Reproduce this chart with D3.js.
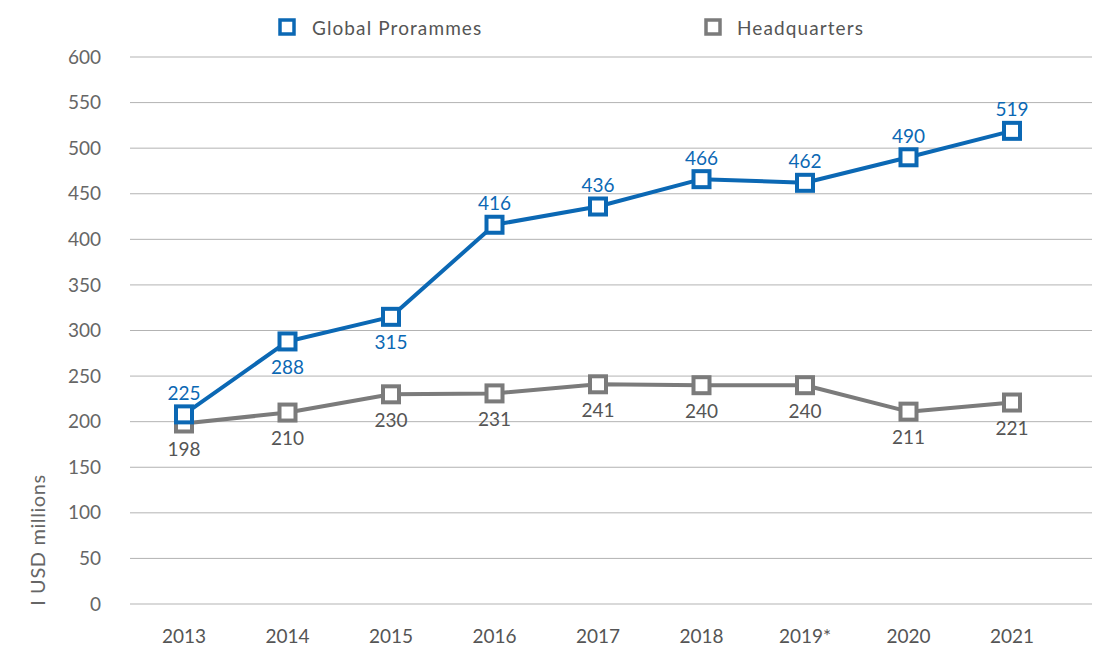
<!DOCTYPE html>
<html>
<head>
<meta charset="utf-8">
<script src="https://cdn.jsdelivr.net/npm/d3@7"></script>
<style>
  body { margin: 0; background: #fff; }
  text { font-family: Lato, "Open Sans", sans-serif; }
</style>
</head>
<body>
<div id="chart"></div>
<script>
// chart data
var years = ["2013", "2014", "2015", "2016", "2017", "2018", "2019*", "2020", "2021"];
var globalVals = [208, 288, 315, 416, 436, 466, 462, 490, 519];
var globalLabels = ["225", "288", "315", "416", "436", "466", "462", "490", "519"];
var hqVals = [198, 210, 230, 231, 241, 240, 240, 211, 221];
var hqLabels = ["198", "210", "230", "231", "241", "240", "240", "211", "221"];
var yTicks = [0, 50, 100, 150, 200, 250, 300, 350, 400, 450, 500, 550, 600];

var w = 1097, h = 646;
var blue = "#0b68b4", grey = "#7b7b7b";

var svg = d3.select("#chart").append("svg")
    .attr("width", w)
    .attr("height", h);

var x = d3.scalePoint().domain(years).range([184, 1012]);
var y = d3.scaleLinear().domain([0, 600]).range([604, 57]);

// grid lines
svg.selectAll(".grid")
    .data(yTicks)
    .enter().append("line")
    .attr("x1", 130).attr("x2", 1092)
    .attr("y1", function(d) { return y(d); })
    .attr("y2", function(d) { return y(d); })
    .style("stroke", "#b3b3b3")
    .style("stroke-width", 1);

// y tick labels
svg.selectAll(".ylab")
    .data(yTicks)
    .enter().append("text")
    .attr("x", 101)
    .attr("y", function(d) { return y(d); })
    .attr("dy", "0.35em")
    .attr("text-anchor", "end")
    .style("font-size", "19px")
    .style("fill", "#666")
    .text(function(d) { return d; });

// x tick labels
svg.selectAll(".xlab")
    .data(years)
    .enter().append("text")
    .attr("x", function(d) { return x(d); })
    .attr("y", 643)
    .attr("text-anchor", "middle")
    .style("font-size", "19px")
    .style("fill", "#555")
    .text(function(d) { return d; });

// y title
svg.append("text")
    .attr("transform", "translate(45,540) rotate(-90)")
    .attr("text-anchor", "middle")
    .style("font-size", "20px")
    .style("letter-spacing", "0.6px")
    .style("fill", "#666")
    .text("I USD millions");

function drawSeries(vals, labels, color, pos) {
    var line = d3.line()
        .x(function(d, i) { return x(years[i]); })
        .y(function(d) { return y(d); });

    svg.append("path")
        .datum(vals)
        .attr("d", line)
        .style("fill", "none")
        .style("stroke", color)
        .style("stroke-width", 4)
        .style("stroke-linejoin", "round");

    svg.selectAll(null)
        .data(vals)
        .enter().append("rect")
        .attr("x", function(d, i) { return x(years[i]) - 8; })
        .attr("y", function(d) { return y(d) - 8; })
        .attr("width", 16).attr("height", 16)
        .style("fill", "#fff")
        .style("stroke", color)
        .style("stroke-width", 4);

    svg.selectAll(null)
        .data(vals)
        .enter().append("text")
        .attr("x", function(d, i) { return x(years[i]); })
        .attr("y", function(d, i) { return y(d) + (pos[i] === "up" ? -21 : 26); })
        .attr("dy", "0.35em")
        .attr("text-anchor", "middle")
        .style("font-size", "19px")
        .style("fill", color === blue ? blue : "#555")
        .text(function(d, i) { return labels[i]; });
}

drawSeries(hqVals, hqLabels, grey, ["dn", "dn", "dn", "dn", "dn", "dn", "dn", "dn", "dn"]);
drawSeries(globalVals, globalLabels, blue, ["up", "dn", "dn", "up", "up", "up", "up", "up", "up"]);

// legend
var legend = [["Global Proramme" + "s", blue, 287, 312], ["Headquarters", grey, 713, 737]];
legend.forEach(function(l) {
    svg.append("rect")
        .attr("x", l[2] - 7).attr("y", 20)
        .attr("width", 14).attr("height", 14)
        .style("fill", "#fff")
        .style("stroke", l[1])
        .style("stroke-width", 3.5);
    svg.append("text")
        .attr("x", l[3]).attr("y", 35)
        .style("font-size", "19px")
        .style("fill", "#555")
        .style("letter-spacing", "1.1px")
        .text(l[0]);
});
</script>
</body>
</html>
